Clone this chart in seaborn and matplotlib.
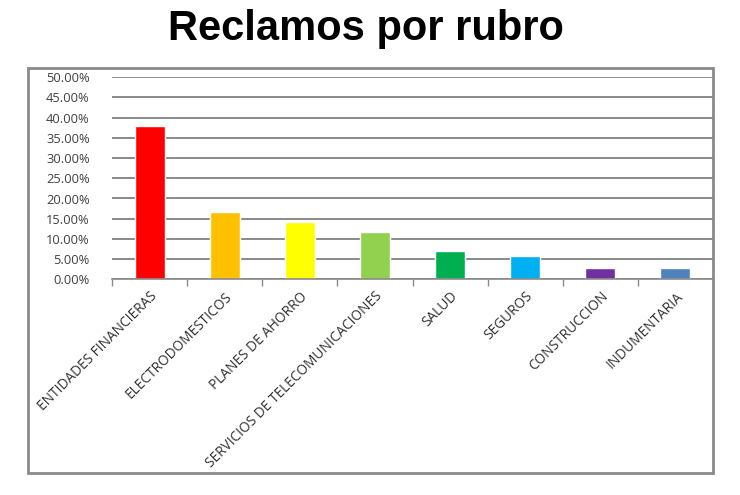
import matplotlib
matplotlib.use("Agg")
import matplotlib.pyplot as plt
import seaborn as sns
import pandas as pd
from matplotlib.patches import Rectangle
from matplotlib.ticker import FuncFormatter, FixedLocator

categorias = ["ENTIDADES FINANCIERAS", "ELECTRODOMESTICOS", "PLANES DE AHORRO",
              "SERVICIOS DE TELECOMUNICACIONES", "SALUD", "SEGUROS",
              "CONSTRUCCION", "INDUMENTARIA"]
valores = [0.379, 0.167, 0.141, 0.117, 0.071, 0.058, 0.028, 0.028]
colores = ["#FF0000", "#FFC000", "#FFFF00", "#92D050", "#00B050", "#00B0F0",
           "#7030A0", "#4F81BD"]

df = pd.DataFrame({"rubro": categorias, "valor": valores})

sns.set_theme(style="white")
plt.rcParams["font.family"] = ["Open Sans", "DejaVu Sans"]

fig = plt.figure(figsize=(7.4, 4.95), dpi=100)
ax = fig.add_axes([112/740, 1-279.3/495, (713-112)/740, (279.3-77.3)/495])

sns.barplot(data=df, x="rubro", y="valor", hue="rubro", palette=colores,
            legend=False, width=0.4, saturation=1, ax=ax)

ax.set_ylim(0, 0.5)
ax.set_xlim(-0.5, len(categorias) - 0.5)
ax.set_yticks([i * 0.05 for i in range(11)])
ax.yaxis.set_major_formatter(FuncFormatter(lambda v, p: f"{v*100:.2f}%"))
ax.grid(axis="y", color="#8a8a8a", linewidth=1.4)
ax.set_axisbelow(True)
ax.set_xlabel("")
ax.set_ylabel("")
for s in ["top", "left", "right"]:
    ax.spines[s].set_visible(False)
ax.spines["bottom"].set_color("#8a8a8a")
ax.spines["bottom"].set_linewidth(1.2)

ax.tick_params(axis="y", labelsize=9.3, colors="#404040", length=0, pad=16)
ax.tick_params(axis="x", which="major", length=0, labelsize=9.8,
               labelcolor="#303030", pad=7)
ax.xaxis.set_minor_locator(FixedLocator([i - 0.5 for i in range(len(categorias))]))
ax.tick_params(axis="x", which="minor", length=5, width=1, color="#8a8a8a",
               bottom=True)
for lab in ax.get_xticklabels():
    lab.set_rotation(45)
    lab.set_ha("right")
    lab.set_va("top")
    lab.set_rotation_mode("anchor")

frame = Rectangle((28/740, 1-473/495), (713-28)/740, (473-68)/495,
                  transform=fig.transFigure, fill=False, edgecolor="#8a8a8a",
                  linewidth=2)
fig.patches.append(frame)

fig.text(366/740, 1-29/495, "Reclamos por rubro", ha="center", va="center",
         fontsize=30, fontweight="bold", family=["Liberation Sans", "DejaVu Sans"],
         color="black")

fig.savefig("out.png", dpi=100)
